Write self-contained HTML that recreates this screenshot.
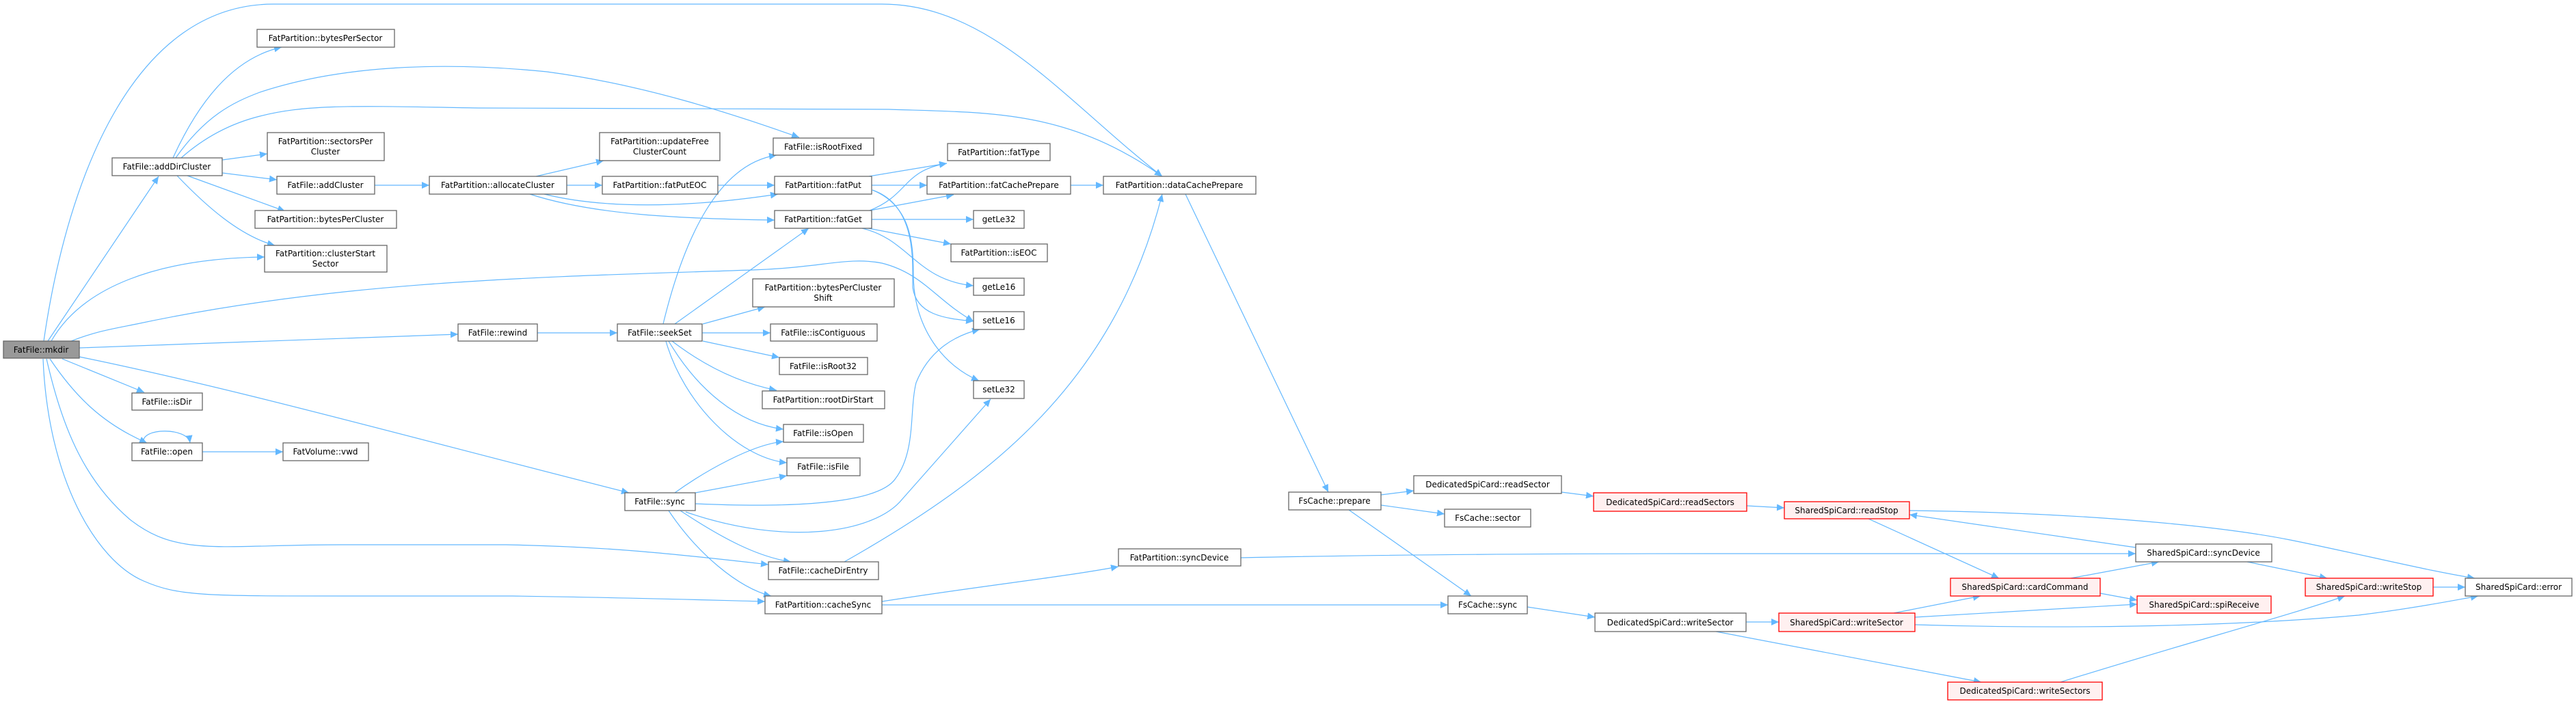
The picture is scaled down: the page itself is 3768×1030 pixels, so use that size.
<!DOCTYPE html>
<html><head><meta charset="utf-8"><style>
html,body{margin:0;padding:0;background:#fff;}
svg{display:block;}
text{font-family:"DejaVu Sans","Liberation Sans",sans-serif;font-size:12px;fill:#000;text-anchor:middle;}
.n{fill:#fff;stroke:#666;stroke-width:1.3;}
.r{fill:#fff0f0;stroke:#f00;stroke-width:1.3;}
.m{fill:#999;stroke:#666;stroke-width:1.3;}
.e{fill:none;stroke:#63b8ff;stroke-width:1.2;marker-end:url(#a);}
</style></head><body>
<svg width="3768" height="1030" viewBox="0 0 3768 1030" xmlns="http://www.w3.org/2000/svg">
<defs><marker id="a" markerUnits="userSpaceOnUse" markerWidth="12" markerHeight="10" refX="11" refY="5" orient="auto"><path d="M0,0 L11,5 L0,10 z" fill="#63b8ff"/></marker></defs>

<!-- edges -->
<path class="e" d="M64,499 C100,250 200,6 400,6 L1290,6 C1450,6 1560,150 1700,258"/>
<path class="e" d="M70,499 L232,258"/>
<path class="e" d="M75,499 C120,420 230,378 387,376"/>
<path class="e" d="M104,499 C140,485 160,482 200,474 C500,410 800,405 1100,395 C1200,392 1240,375 1290,385 C1350,400 1370,440 1424,470"/>
<path class="e" d="M116,509 L670,489"/>
<path class="e" d="M116,522 C350,570 600,640 920,721"/>
<path class="e" d="M91,525 L211,574"/>
<path class="e" d="M73,525 C110,580 150,620 215,648"/>
<path class="e" d="M68,525 C90,620 120,700 190,760 C260,815 320,797 500,797 L740,797 C900,800 1000,812 1124,826"/>
<path class="e" d="M63,525 C70,700 140,820 210,850 C260,872 300,872 500,872 L750,872 C900,874 1000,877 1119,880"/>
<!-- addDirCluster -->
<path class="e" d="M253,231 C290,150 340,85 412,69"/>
<path class="e" d="M257,231 C300,170 340,150 380,135 C500,95 650,90 800,105 C950,125 1080,170 1169,201"/>
<path class="e" d="M265,231 C300,200 340,180 380,170 C450,152 520,155 700,158 C1000,160 1200,160 1300,160 C1450,165 1560,160 1700,258"/>
<path class="e" d="M325,234 L391,225"/>
<path class="e" d="M325,253 L405,263"/>
<path class="e" d="M274,257 L417,309"/>
<path class="e" d="M259,257 C300,300 350,345 402,359"/>
<path class="e" d="M548,271 L628,271"/>
<path class="e" d="M784,258 L883,235"/>
<path class="e" d="M829,271 L881,271"/>
<path class="e" d="M796,284 C880,305 1000,305 1138,284"/>
<path class="e" d="M775,284 C870,315 1000,320 1133,322"/>
<path class="e" d="M1050,271 L1133,271"/>
<!-- open -->
<path class="e" d="M210,648 C205,625 275,625 278,648"/>
<path class="e" d="M296,661 L414,661"/>
<path class="e" d="M786,487 L903,487"/>
<!-- seekSet -->
<path class="e" d="M970,474 C1000,350 1050,240 1136,227"/>
<path class="e" d="M987,474 L1183,334"/>
<path class="e" d="M1028,474 L1119,449"/>
<path class="e" d="M1027,487 L1127,487"/>
<path class="e" d="M1028,499 L1140,523"/>
<path class="e" d="M983,499 C1030,535 1080,560 1136,571"/>
<path class="e" d="M978,499 C1020,570 1080,620 1146,628"/>
<path class="e" d="M974,499 C1000,590 1080,670 1151,677"/>
<!-- sync -->
<path class="e" d="M987,721 C1030,690 1100,650 1146,646"/>
<path class="e" d="M1017,721 L1151,696"/>
<path class="e" d="M1017,737 C1200,745 1290,730 1310,700 C1340,660 1330,600 1340,560 C1360,510 1400,490 1433,482"/>
<path class="e" d="M1003,749 C1150,800 1280,780 1320,730 L1449,584"/>
<path class="e" d="M995,747 C1060,790 1110,815 1157,822"/>
<path class="e" d="M978,747 C1020,810 1080,860 1128,872"/>
<path class="e" d="M1235,822 C1450,700 1630,560 1700,284"/>
<path class="e" d="M1290,880 C1450,855 1550,845 1636,829"/>
<path class="e" d="M1290,885 L2118,885"/>
<!-- fatPut/fatGet -->
<path class="e" d="M1271,258 L1385,239"/>
<path class="e" d="M1272,308 C1330,285 1320,250 1385,239"/>
<path class="e" d="M1275,271 L1356,271"/>
<path class="e" d="M1272,308 L1395,285"/>
<path class="e" d="M1275,321 L1424,321"/>
<path class="e" d="M1270,334 L1391,357"/>
<path class="e" d="M1261,334 C1330,350 1340,410 1424,418"/>
<path class="e" d="M1276,278 C1340,300 1335,380 1335,420 C1340,460 1380,466 1424,470"/>
<path class="e" d="M1276,278 C1330,300 1336,350 1336,400 C1336,480 1380,535 1432,557"/>
<path class="e" d="M1566,271 L1614,271"/>
<path class="e" d="M1734,284 L1943,720"/>
<path class="e" d="M2020,724 L2068,718"/>
<path class="e" d="M2020,739 L2113,752"/>
<path class="e" d="M1973,746 L2152,872"/>
<path class="e" d="M2284,720 L2331,726"/>
<path class="e" d="M2555,740 L2610,743"/>
<path class="e" d="M1815,816 C2000,812 2200,810 2500,810 L3124,810"/>
<path class="e" d="M2234,888 L2333,903"/>
<path class="e" d="M2554,910 L2602,910"/>
<path class="e" d="M2510,924 L2898,998"/>
<path class="e" d="M2733,759 L2924,846"/>
<path class="e" d="M2793,747 C3050,750 3250,770 3350,790 C3450,810 3550,835 3620,846"/>
<path class="e" d="M3124,801 L2793,753"/>
<path class="e" d="M3029,846 L3158,822"/>
<path class="e" d="M3072,868 L3126,878"/>
<path class="e" d="M3287,822 L3404,846"/>
<path class="e" d="M3559,859 L3606,859"/>
<path class="e" d="M2770,897 L2897,872"/>
<path class="e" d="M2801,903 L3126,884"/>
<path class="e" d="M2801,914 C3000,920 3250,918 3450,900 C3530,890 3580,880 3625,872"/>
<path class="e" d="M3014,998 C3200,940 3350,900 3430,872"/>

<!-- nodes -->
<rect class="m" x="5" y="499" width="111" height="25"/><text x="60" y="516">FatFile::mkdir</text>
<rect class="n" x="164" y="231" width="161" height="26"/><text x="244" y="248">FatFile::addDirCluster</text>
<rect class="n" x="376" y="43" width="201" height="26"/><text x="476" y="60">FatPartition::bytesPerSector</text>
<rect class="n" x="391" y="194" width="171" height="41"/><text x="476" y="211">FatPartition::sectorsPer</text><text x="476" y="226">Cluster</text>
<rect class="n" x="405" y="258" width="143" height="26"/><text x="476" y="275">FatFile::addCluster</text>
<rect class="n" x="373" y="308" width="207" height="26"/><text x="476" y="325">FatPartition::bytesPerCluster</text>
<rect class="n" x="387" y="359" width="179" height="39"/><text x="476" y="375">FatPartition::clusterStart</text><text x="476" y="390">Sector</text>
<rect class="n" x="193" y="575" width="103" height="25"/><text x="244" y="592">FatFile::isDir</text>
<rect class="n" x="193" y="648" width="103" height="26"/><text x="244" y="665">FatFile::open</text>
<rect class="n" x="414" y="648" width="125" height="26"/><text x="476" y="665">FatVolume::vwd</text>
<rect class="n" x="670" y="474" width="116" height="25"/><text x="728" y="491">FatFile::rewind</text>
<rect class="n" x="628" y="258" width="201" height="26"/><text x="728" y="275">FatPartition::allocateCluster</text>
<rect class="n" x="877" y="194" width="176" height="41"/><text x="965" y="211">FatPartition::updateFree</text><text x="965" y="226">ClusterCount</text>
<rect class="n" x="881" y="258" width="169" height="26"/><text x="965" y="275">FatPartition::fatPutEOC</text>
<rect class="n" x="903" y="474" width="124" height="25"/><text x="965" y="491">FatFile::seekSet</text>
<rect class="n" x="914" y="721" width="103" height="26"/><text x="965" y="738">FatFile::sync</text>
<rect class="n" x="1131" y="202" width="147" height="25"/><text x="1204" y="219">FatFile::isRootFixed</text>
<rect class="n" x="1133" y="258" width="142" height="26"/><text x="1204" y="275">FatPartition::fatPut</text>
<rect class="n" x="1133" y="308" width="142" height="26"/><text x="1204" y="325">FatPartition::fatGet</text>
<rect class="n" x="1101" y="408" width="207" height="41"/><text x="1204" y="425">FatPartition::bytesPerCluster</text><text x="1204" y="440">Shift</text>
<rect class="n" x="1127" y="474" width="156" height="25"/><text x="1204" y="491">FatFile::isContiguous</text>
<rect class="n" x="1140" y="523" width="129" height="25"/><text x="1204" y="540">FatFile::isRoot32</text>
<rect class="n" x="1115" y="572" width="179" height="26"/><text x="1204" y="589">FatPartition::rootDirStart</text>
<rect class="n" x="1146" y="621" width="117" height="26"/><text x="1204" y="638">FatFile::isOpen</text>
<rect class="n" x="1151" y="670" width="107" height="26"/><text x="1204" y="687">FatFile::isFile</text>
<rect class="n" x="1124" y="822" width="161" height="26"/><text x="1204" y="839">FatFile::cacheDirEntry</text>
<rect class="n" x="1119" y="872" width="171" height="26"/><text x="1204" y="889">FatPartition::cacheSync</text>
<rect class="n" x="1386" y="210" width="150" height="25"/><text x="1461" y="227">FatPartition::fatType</text>
<rect class="n" x="1356" y="258" width="210" height="26"/><text x="1461" y="275">FatPartition::fatCachePrepare</text>
<rect class="n" x="1614" y="258" width="223" height="26"/><text x="1725" y="275">FatPartition::dataCachePrepare</text>
<rect class="n" x="1424" y="308" width="74" height="26"/><text x="1461" y="325">getLe32</text>
<rect class="n" x="1391" y="357" width="141" height="26"/><text x="1461" y="374">FatPartition::isEOC</text>
<rect class="n" x="1424" y="407" width="74" height="25"/><text x="1461" y="424">getLe16</text>
<rect class="n" x="1424" y="456" width="74" height="26"/><text x="1461" y="473">setLe16</text>
<rect class="n" x="1424" y="557" width="74" height="26"/><text x="1461" y="574">setLe32</text>
<rect class="n" x="1885" y="720" width="135" height="26"/><text x="1952" y="737">FsCache::prepare</text>
<rect class="n" x="2068" y="696" width="216" height="26"/><text x="2176" y="713">DedicatedSpiCard::readSector</text>
<rect class="r" x="2331" y="721" width="224" height="27"/><text x="2443" y="739">DedicatedSpiCard::readSectors</text>
<rect class="n" x="2113" y="745" width="126" height="26"/><text x="2176" y="762">FsCache::sector</text>
<rect class="n" x="1636" y="803" width="179" height="25"/><text x="1725" y="820">FatPartition::syncDevice</text>
<rect class="n" x="2118" y="872" width="116" height="26"/><text x="2176" y="889">FsCache::sync</text>
<rect class="n" x="2333" y="897" width="221" height="27"/><text x="2443" y="915">DedicatedSpiCard::writeSector</text>
<rect class="r" x="2610" y="734" width="183" height="25"/><text x="2701" y="751">SharedSpiCard::readStop</text>
<rect class="n" x="3124" y="796" width="199" height="26"/><text x="3223" y="813">SharedSpiCard::syncDevice</text>
<rect class="r" x="2853" y="846" width="219" height="26"/><text x="2962" y="863">SharedSpiCard::cardCommand</text>
<rect class="r" x="3126" y="872" width="196" height="25"/><text x="3224" y="889">SharedSpiCard::spiReceive</text>
<rect class="r" x="3372" y="846" width="187" height="26"/><text x="3465" y="863">SharedSpiCard::writeStop</text>
<rect class="n" x="3606" y="846" width="156" height="26"/><text x="3684" y="863">SharedSpiCard::error</text>
<rect class="r" x="2602" y="897" width="199" height="27"/><text x="2701" y="915">SharedSpiCard::writeSector</text>
<rect class="r" x="2849" y="998" width="226" height="26"/><text x="2962" y="1015">DedicatedSpiCard::writeSectors</text>
</svg>
</body></html>
